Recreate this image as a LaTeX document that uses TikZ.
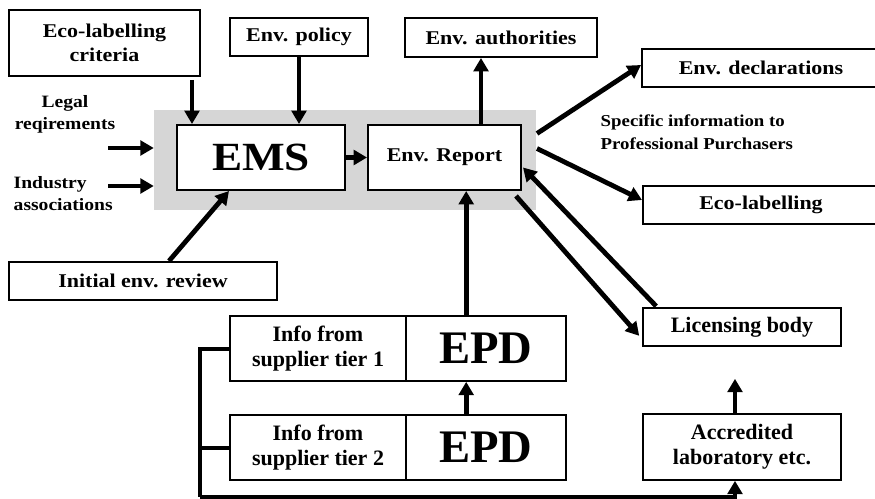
\documentclass[tikz,border=0pt]{standalone}
\usepackage{fontspec}
\setmainfont{Liberation Serif}
\newfontfamily\gar{Liberation Serif}[FakeStretch=1.13]
\usetikzlibrary{arrows.meta,calc}
\newcommand\tA{\gar\bfseries\fontsize{14.6}{17.25}\selectfont}
\newcommand\tB{\bfseries\fontsize{16.5}{18.75}\selectfont}
\newcommand\tEMS{\gar\bfseries\fontsize{30}{30}\selectfont}
\newcommand\tEPD{\bfseries\fontsize{35}{35}\selectfont}
\newcommand\tL{\gar\bfseries\fontsize{13}{16.5}\selectfont}
\newcommand\tS{\gar\bfseries\fontsize{12.5}{17.25}\selectfont}
\begin{document}
\begin{tikzpicture}[x=0.75pt,y=-0.75pt,
  sz/.style n args={2}{minimum width=#1*0.75pt, minimum height=#2*0.75pt},
  box/.style={draw, line width=1.5pt, fill=white, inner sep=0pt, align=center, font=\tA},
  thinbox/.style={draw, line width=1.2pt, fill=white, inner sep=0pt, align=center},
  arr/.style={line width=3.6pt, -{Triangle[length=10pt,width=11pt]}},
  conn/.style={line width=3pt, line join=miter}]
\useasboundingbox (0,0) rectangle (875,499);
\clip (0,0) rectangle (875,499);
% shaded background
\node[fill=gray!32, inner sep=0pt, sz={382}{100}] (shade) at (345,160) {};
% boxes
\node[box, sz={191}{66}] (crit) at (104.5,43) {Eco-labelling\\[1pt]criteria};
\node[box, sz={138}{38}] (pol) at (299,37) {Env. policy};
\node[box, sz={192}{39}] (auth) at (501,37.5) {Env. authorities};
\node[box, sz={268}{38}] (decl) at (776,68) {};
\node[font=\tA] (decltxt) at (761,68) {Env. declarations};
\node[box, sz={268}{38}] (ecol) at (777,205) {};
\node[font=\tA] (ecoltxt) at (761,205) {Eco-labelling};
\node[box, sz={168}{65}, font=\tEMS] (ems) at (261,157.5) {EMS};
\node[box, sz={153}{65}] (rep) at (444.5,157.5) {Env. Report};
\node[box, sz={268}{38}] (init) at (143,281) {Initial env. review};
\node[thinbox, sz={176}{65}, font=\tB] (info1) at (318,348.5) {Info from\\supplier tier 1};
\node[thinbox, sz={160}{65}, font=\tEPD] (epd1) at (486,348.5) {EPD};
\node[thinbox, sz={176}{65}, font=\tB] (info2) at (318,447.5) {Info from\\supplier tier 2};
\node[thinbox, sz={160}{65}, font=\tEPD] (epd2) at (486,447.5) {EPD};
\node[thinbox, sz={198}{38}, font=\tB] (lic) at (742,327) {Licensing body};
\node[thinbox, sz={198}{66}, font=\tB] (lab) at (742,447) {Accredited\\laboratory etc.};
% free texts
\node[font=\tL, align=center] (legal) at (65,114) {Legal\\reqirements};
\node[font=\tL, align=left, anchor=west] (ind) at (9,194) {Industry\\associations};
\node[font=\tS, align=left, anchor=west] (spec) at (596,132) {Specific information to\\Professional Purchasers};
% connectors
\coordinate (e1) at ($(ems.north west)+(16,0)$);
\draw[arr] ($(crit.south -| e1)+(0,3)$) -- (e1);
\draw[arr] (pol.south) -- (pol.south |- ems.north);
\coordinate (l1) at (108,148);
\coordinate (l2) at (108,186);
\draw[arr] (l1) -- (l1 -| shade.west);
\draw[arr] (l2) -- (l2 -| shade.west);
\draw[arr] (ems.east) -- (rep.west);
\draw[arr] ($(init.north west)+(161,0)$) -- ($(ems.south west)+(53,0)$);
\coordinate (r1) at ($(rep.north west)+(114,0)$);
\draw[arr] (r1) -- (r1 |- auth.south);
\draw[arr] ($(rep.east)+(15,-24)$) -- ($(decl.west)+(0,-3)$);
\draw[arr] ($(rep.east)+(15,-9)$) -- ($(ecol.west)+(0,-5)$);
\draw[arr] ($(rep.south east)+(-6,5)$) -- ($(lic.south west)+(-3,-11)$);
\draw[arr] ($(lic.north west)+(14,-1)$) -- ($(rep.east)+(1,10)$);
\coordinate (p1) at ($(epd1.north west)+(61,0)$);
\draw[arr] (p1) -- (p1 |- rep.south);
\coordinate (p2) at ($(epd2.north west)+(61,0)$);
\draw[arr] (p2) -- (p2 |- epd1.south);
\coordinate (a1) at ($(lab.north)+(-7,0)$);
\coordinate (a2) at ($(lic.south)+(-7,32)$);
\draw[arr] (a1) -- (a2);
\coordinate (bl) at (200,497);
\coordinate (labin) at ($(lab.south)+(-7,0)$);
\draw[conn] (info1.west) -| (bl);
\draw[conn] (info2.west) -- (info2.west -| bl);
\draw[conn, -{Triangle[length=10pt,width=11pt]}] (bl) -| (labin);
\end{tikzpicture}
\end{document}
